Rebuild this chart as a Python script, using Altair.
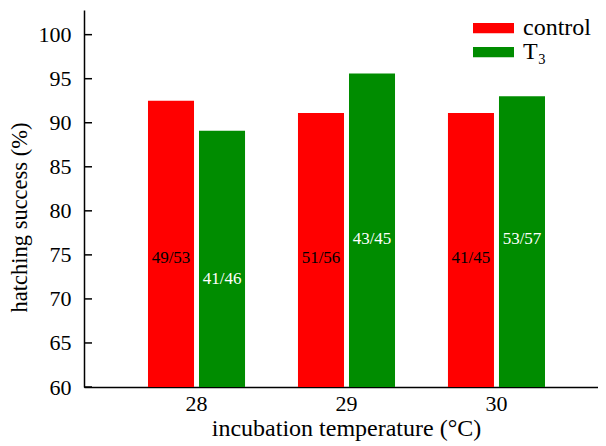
import altair as alt
import pandas as pd

temps = ["28", "29", "30"]
groups = ["control", "T₃"]
control = [92.5, 91.1, 91.1]
t3 = [89.1, 95.6, 93.0]
control_n = ["49/53", "51/56", "41/45"]
t3_n = ["41/46", "43/45", "53/57"]
control_label_at = [74.7, 74.7, 74.7]
t3_label_at = [72.3, 76.8, 76.8]
y_ticks = [60, 65, 70, 75, 80, 85, 90, 95, 100]

rows = []
for i, t in enumerate(temps):
    rows.append({"temp": t, "group": groups[0], "value": control[i], "n": control_n[i], "ly": control_label_at[i]})
    rows.append({"temp": t, "group": groups[1], "value": t3[i], "n": t3_n[i], "ly": t3_label_at[i]})
df = pd.DataFrame(rows)
ticks_df = pd.DataFrame({"v": y_ticks})

FONT = "Liberation Serif, Times New Roman, serif"
yscale = alt.Scale(domain=[60, 102.8], nice=False, zero=False)
xscale = alt.Scale(paddingInner=0.353, paddingOuter=0.39, align=0.547)
xoff = alt.Scale(paddingInner=0.098, paddingOuter=0)

x_enc = alt.X("temp:N", scale=xscale, sort=temps,
              axis=alt.Axis(title="incubation temperature (°C)", labelAngle=0, ticks=False,
                            labelPadding=6, titlePadding=2, titleX=262, titleFontSize=24))
bars = alt.Chart(df).mark_bar(clip=True).encode(
    x=x_enc,
    xOffset=alt.XOffset("group:N", scale=xoff, sort=groups),
    y=alt.Y("value:Q", scale=yscale,
            axis=alt.Axis(title="hatching success (%)", values=y_ticks, ticks=False,
                          labelPadding=13, titlePadding=7, titleY=207, titleFontSize=22.5)),
    y2=alt.datum(60),
    color=alt.Color("group:N", sort=groups,
                    scale=alt.Scale(domain=groups, range=["#ff0000", "#008c00"]),
                    legend=alt.Legend(title=None, orient="none", legendX=389, legendY=6,
                                      symbolType="M-1,-0.25H1V0.25H-1Z", symbolSize=1681,
                                      symbolStrokeWidth=0, symbolOpacity=1,
                                      labelFont=FONT, labelFontSize=24, labelColor="black",
                                      labelOffset=9, clipHeight=24, rowPadding=0)),
)

labels = alt.Chart(df).mark_text(font=FONT, fontSize=17, baseline="middle").encode(
    x=alt.X("temp:N", scale=xscale, sort=temps),
    xOffset=alt.XOffset("group:N", scale=xoff, sort=groups),
    y=alt.Y("ly:Q", scale=yscale),
    text="n:N",
    color=alt.Color("group:N", sort=groups,
                    scale=alt.Scale(domain=groups, range=["black", "white"]), legend=None),
)

tick_marks = alt.Chart(ticks_df).mark_rule(color="black", strokeWidth=1.5).encode(
    y=alt.Y("v:Q", scale=yscale),
    x=alt.value(0),
    x2=alt.value(8),
)

chart = alt.layer(bars, labels, tick_marks).resolve_scale(color="independent").properties(
    width=514, height=377,
    autosize=alt.AutoSizeParams(type="none"),
    padding={"left": 76, "top": 2, "right": 0, "bottom": 56},
).configure_view(stroke=None).configure_axis(
    labelFont=FONT, labelFontSize=22, labelColor="black",
    titleFont=FONT, titleFontWeight="normal", titleColor="black",
    domainColor="black", domainWidth=1.5, grid=False,
)

chart.save("out.html", embed_options={"renderer": "svg", "actions": False})
